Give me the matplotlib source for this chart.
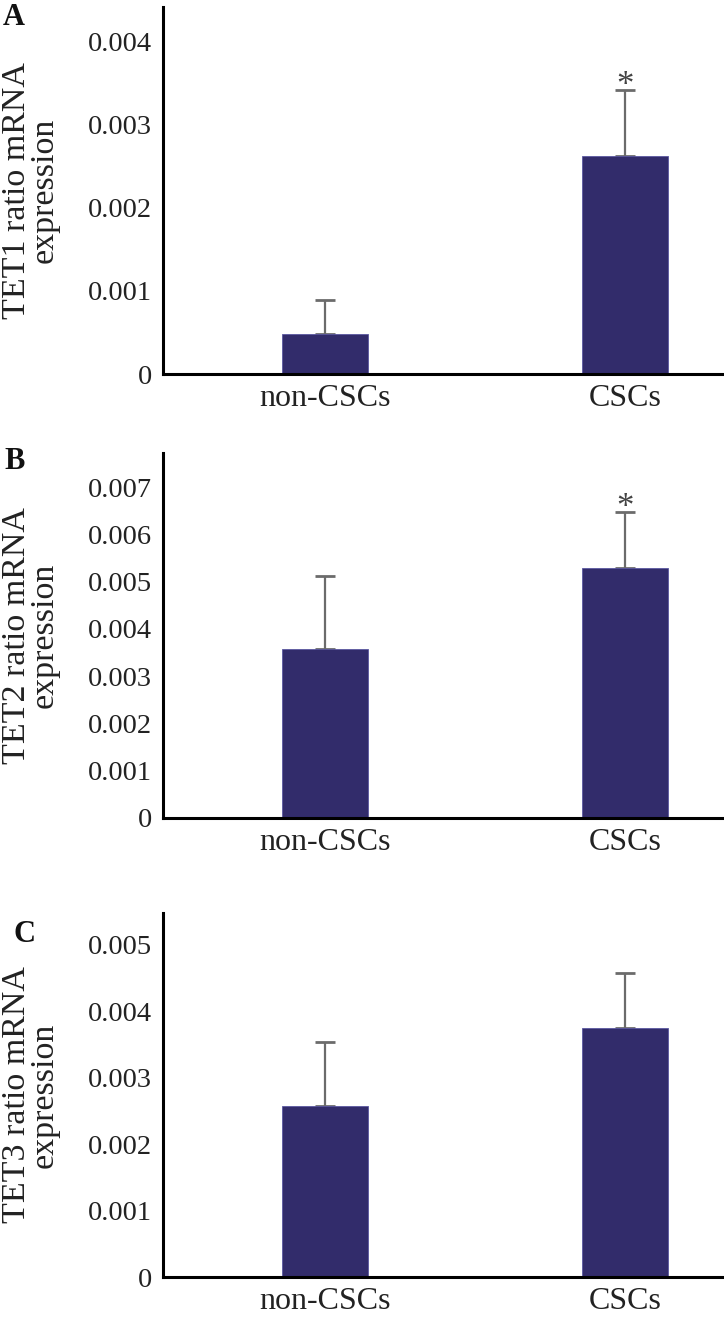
import numpy as np
import matplotlib
matplotlib.use("Agg")
import matplotlib.pyplot as plt

plt.rcParams['font.family'] = ['Liberation Serif', 'DejaVu Serif']

groups = ['non-CSCs', 'CSCs']

tet1_mean = [0.00048, 0.00262]
tet1_err = [0.00041, 0.00079]
tet2_mean = [0.00357, 0.00529]
tet2_err = [0.00155, 0.00118]
tet3_mean = [0.00257, 0.00375]
tet3_err = [0.00097, 0.00082]

panels = [
    ('A', 'TET1 ratio mRNA\nexpression', tet1_mean, tet1_err, 0.00441, 0.004, True),
    ('B', 'TET2 ratio mRNA\nexpression', tet2_mean, tet2_err, 0.00772, 0.007, True),
    ('C', 'TET3 ratio mRNA\nexpression', tet3_mean, tet3_err, 0.00548, 0.005, False),
]

# axes boxes in figure fraction (bottom, height)
boxes = [(0.7162, 0.2785), (0.3794, 0.2769), (0.0310, 0.2765)]
letter_pos = [(0.004, 0.998), (0.006, 0.661), (0.019, 0.302)]

bar_color = '#322c6b'
txt_color = '#222222'

fig = plt.figure(figsize=(7.24, 13.18), dpi=100)

for (letter, ylab, mean, err, ytop, tmax, star), (b, h), lp in zip(panels, boxes, letter_pos):
    ax = fig.add_axes([0.225, b, 0.772, h])
    x = np.arange(len(groups))
    ax.bar(x, mean, width=0.285, color=bar_color, edgecolor='#5b58a0', linewidth=0.6, zorder=2)
    ax.errorbar(x, mean, yerr=[np.zeros(len(err)), err], fmt='none', ecolor='#6b6b6b',
                elinewidth=1.6, capsize=7, capthick=2, zorder=1)
    if star:
        # significance mark just above the CSCs cap
        ax.annotate('*', (1, mean[1] + err[1]), xytext=(0, -9), textcoords='offset points',
                    ha='center', va='bottom', fontsize=25, color='#444444')
    ax.set_xlim(-0.54, 1.323)
    ax.set_ylim(0, ytop)
    ticks = np.round(np.arange(0, tmax + 1e-9, 0.001), 3)
    ax.set_yticks(ticks)
    ax.set_yticklabels(['0'] + ['%.3f' % t for t in ticks[1:]])
    ax.set_xticks(x)
    ax.set_xticklabels(groups)
    ax.tick_params(axis='y', length=0, pad=8, labelsize=20.5, labelcolor=txt_color)
    ax.tick_params(axis='x', length=0, pad=7, labelsize=23, labelcolor=txt_color)
    for s in ['top', 'right']:
        ax.spines[s].set_visible(False)
    ax.spines['left'].set_linewidth(2.2)
    ax.spines['bottom'].set_linewidth(2.2)
    ax.set_ylabel(ylab, fontsize=24.5, color=txt_color, linespacing=0.9)
    ax.yaxis.set_label_coords(-0.184, 0.5)
    fig.text(lp[0], lp[1], letter, fontsize=22, fontweight='bold', ha='left', va='top', color='#111111')

fig.savefig('out.png', dpi=100)
